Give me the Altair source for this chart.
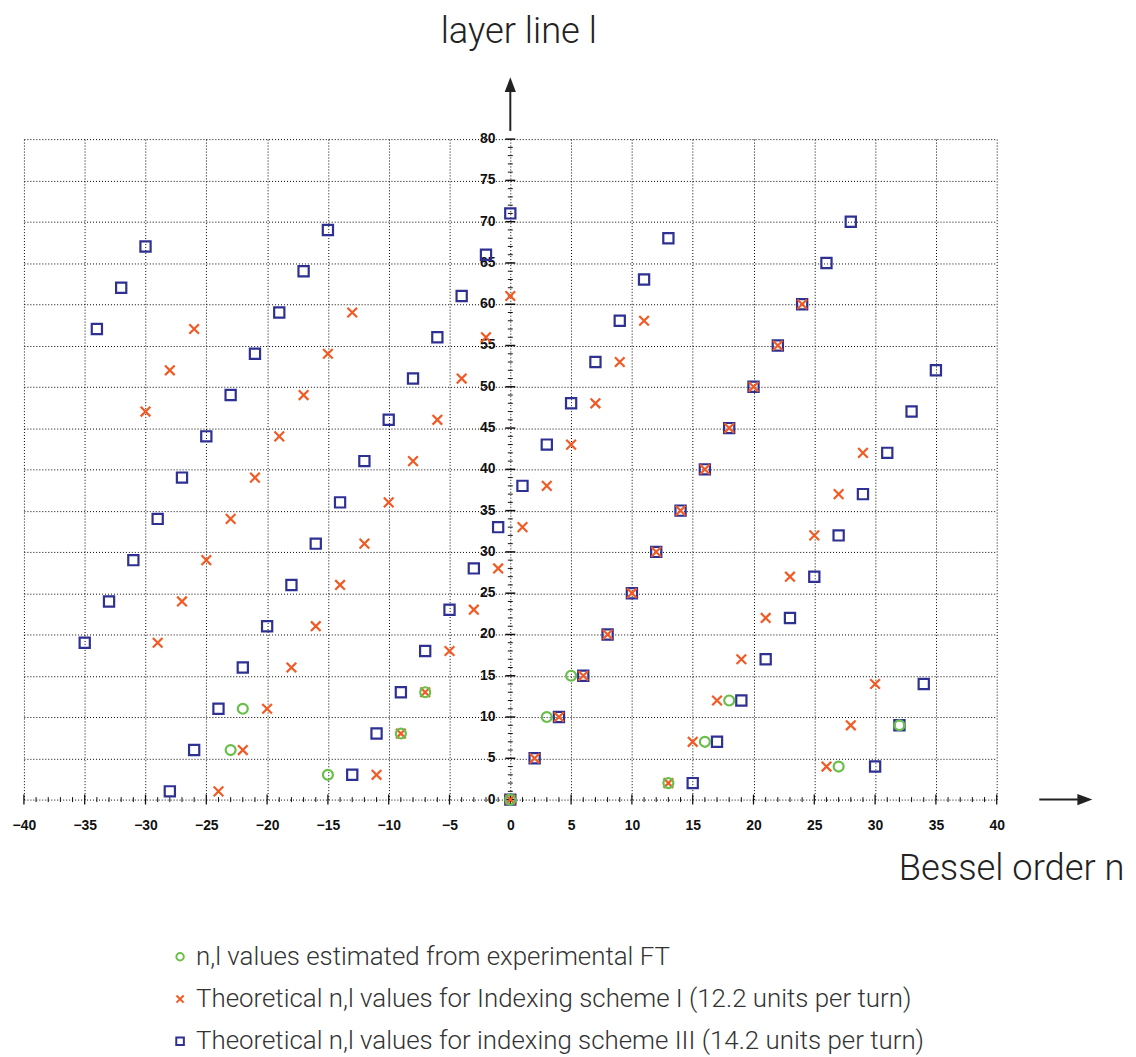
import altair as alt
import pandas as pd

# ---------------- data ----------------
exp_n = [0, 3, 5, -7, -9, -15, -22, -23, 13, 16, 18, 27, 32]
exp_l = [0, 10, 15, 13, 8, 3, 11, 6, 2, 7, 12, 4, 9]

s1_n = [0, 2, 4, 6, 8, 10, 12, 14, 16, 18, 20, 22, 24,
        0, -2, -4, -6, -8, -10, -12, -14, -16, -18, -20, -22, -24,
        -13, -15, -17, -19, -21, -23, -25, -27, -29,
        -26, -28, -30,
        -11, -9, -7, -5, -3, -1, 1, 3, 5, 7, 9, 11,
        13, 15, 17, 19, 21, 23, 25, 27, 29,
        26, 28, 30]
s1_l = [0, 5, 10, 15, 20, 25, 30, 35, 40, 45, 50, 55, 60,
        61, 56, 51, 46, 41, 36, 31, 26, 21, 16, 11, 6, 1,
        59, 54, 49, 44, 39, 34, 29, 24, 19,
        57, 52, 47,
        3, 8, 13, 18, 23, 28, 33, 38, 43, 48, 53, 58,
        2, 7, 12, 17, 22, 27, 32, 37, 42,
        4, 9, 14]

s3_n = [0, 2, 4, 6, 8, 10, 12, 14, 16, 18, 20, 22, 24,
        0, -2, -4, -6, -8, -10, -12, -14, -16, -18, -20, -22, -24, -26, -28,
        -15, -17, -19, -21, -23, -25, -27, -29, -31, -33, -35,
        -30, -32, -34,
        -13, -11, -9, -7, -5, -3, -1, 1, 3, 5, 7, 9, 11, 13,
        15, 17, 19, 21, 23, 25, 27, 29, 31, 33, 35,
        26, 28,
        30, 32, 34]
s3_l = [0, 5, 10, 15, 20, 25, 30, 35, 40, 45, 50, 55, 60,
        71, 66, 61, 56, 51, 46, 41, 36, 31, 26, 21, 16, 11, 6, 1,
        69, 64, 59, 54, 49, 44, 39, 34, 29, 24, 19,
        67, 62, 57,
        3, 8, 13, 18, 23, 28, 33, 38, 43, 48, 53, 58, 63, 68,
        2, 7, 12, 17, 22, 27, 32, 37, 42, 47, 52,
        65, 70,
        4, 9, 14]

series_names = [
    "n,l values estimated from experimental FT",
    "Theoretical n,l values for Indexing scheme I (12.2 units per turn)",
    "Theoretical n,l values for indexing scheme III (14.2 units per turn)",
]
series_colors = ["#6abf4b", "#f15a24", "#2e3192"]
circle_path = "M0.88,0A0.88,0.88,0,1,1,-0.88,0A0.88,0.88,0,1,1,0.88,0Z"
x_path = "M-0.85,-0.85L0.85,0.85M-0.85,0.85L0.85,-0.85"
square_path = "M-0.9,-0.9H0.9V0.9H-0.9Z"
series_shapes = [circle_path, x_path, square_path]

x_ticks = list(range(-40, 45, 5))
y_ticks = list(range(0, 85, 5))
x_minor = list(range(-40, 41, 1))
y_minor = list(range(0, 81, 1))

# ---------------- tables ----------------
points = pd.concat([
    pd.DataFrame({"n": s3_n, "l": s3_l, "series": series_names[2]}),
    pd.DataFrame({"n": s1_n, "l": s1_l, "series": series_names[1]}),
    pd.DataFrame({"n": exp_n, "l": exp_l, "series": series_names[0]}),
], ignore_index=True)

xt = pd.DataFrame({"n": x_minor, "l": 0})
xt["major"] = xt["n"] % 5 == 0
yt = pd.DataFrame({"n": 0, "l": y_minor})
yt["major"] = yt["l"] % 5 == 0
ylab = pd.DataFrame({"n": 0, "l": y_ticks})

TITLE_FONT = "Roboto"
LABEL_FONT = "Liberation Sans"

xscale = alt.Scale(domain=[-40, 40], nice=False, zero=False)
yscale = alt.Scale(domain=[0, 80], nice=False, zero=False)

xaxis = alt.Axis(values=x_ticks, grid=True, gridDash=[1, 2], gridColor="#000",
                 gridWidth=1, domain=False, ticks=False,
                 labelFont=LABEL_FONT, labelFontWeight="bold", labelFontSize=14,
                 labelColor="#111", labelPadding=19, labelFlush=False,
                 labelOverlap=False,
                 title="Bessel order n", titleFont=TITLE_FONT, titleFontSize=36.5,
                 titleFontWeight=300, titleColor="#222", titleX=1106, titleY=80,
                 titleAlign="right", titleBaseline="alphabetic")
yaxis = alt.Axis(values=y_ticks, grid=True, gridDash=[1, 2], gridColor="#000",
                 gridWidth=1, domain=False, ticks=False, labels=False,
                 title="layer line l", titleFont=TITLE_FONT, titleFontSize=36.5,
                 titleFontWeight=300, titleColor="#222", titleAngle=0,
                 titleX=497, titleY=-97, titleAlign="center",
                 titleBaseline="alphabetic")

X = alt.X("n:Q", scale=xscale, axis=xaxis)
Y = alt.Y("l:Q", scale=yscale, axis=yaxis)

legend = alt.Legend(title=None, orient="none", legendX=144, legendY=809,
                    labelFont=TITLE_FONT, labelFontWeight=300, labelFontSize=26,
                    labelColor="#333", labelLimit=1000, labelOffset=3,
                    symbolSize=72, symbolStrokeWidth=2, rowPadding=16.5)

# axis ticks crossing the axis lines
xt_major = alt.Chart(xt[xt["major"]]).mark_rule(
    color="#111", strokeWidth=1.3, yOffset=-5, y2Offset=5).encode(x=X, y=Y, y2=alt.Y2("l:Q"))
xt_minor = alt.Chart(xt[~xt["major"]]).mark_rule(
    color="#111", strokeWidth=1, yOffset=-2.5, y2Offset=2.5).encode(x=X, y=Y, y2=alt.Y2("l:Q"))
yt_major = alt.Chart(yt[yt["major"]]).mark_rule(
    color="#111", strokeWidth=1.5, xOffset=-5, x2Offset=5).encode(x=X, x2=alt.X2("n:Q"), y=Y)
yt_minor = alt.Chart(yt[~yt["major"]]).mark_rule(
    color="#111", strokeWidth=1, xOffset=-2.5, x2Offset=2.5).encode(x=X, x2=alt.X2("n:Q"), y=Y)

ylabels = alt.Chart(ylab).mark_text(
    align="right", baseline="middle", dx=-15, font=LABEL_FONT, fontWeight="bold",
    fontSize=14, color="#111").encode(x=X, y=Y, text=alt.Text("l:Q"))

pts = alt.Chart(points).mark_point(filled=False, size=130, strokeWidth=2.2, opacity=1).encode(
    x=X, y=Y,
    color=alt.Color("series:N", scale=alt.Scale(domain=series_names, range=series_colors), legend=legend),
    shape=alt.Shape("series:N", scale=alt.Scale(domain=series_names, range=series_shapes), legend=legend),
)

# arrows at the ends of the axes
up_shaft = alt.Chart(pd.DataFrame({"n": [0], "l": [81.0], "l2": [85.8]})).mark_rule(
    color="#222", strokeWidth=2).encode(x=X, y=Y, y2=alt.Y2("l2:Q"))
up_head = alt.Chart(pd.DataFrame({"n": [0], "l": [86.6]})).mark_point(
    shape="M0,-1L0.75,1L-0.75,1Z", filled=True, size=225, color="#222", opacity=1).encode(x=X, y=Y)
rt_shaft = alt.Chart(pd.DataFrame({"n": [43.5], "n2": [46.8], "l": [0]})).mark_rule(
    color="#222", strokeWidth=2).encode(x=X, x2=alt.X2("n2:Q"), y=Y)
rt_head = alt.Chart(pd.DataFrame({"n": [47.25], "l": [0]})).mark_point(
    shape="M1,0L-1,-0.75L-1,0.75Z", filled=True, size=225, color="#222", opacity=1).encode(x=X, y=Y)

chart = alt.layer(
    xt_minor, xt_major, yt_minor, yt_major, ylabels, up_shaft, up_head, rt_shaft, rt_head, pts
).properties(
    width=978, height=664,
    autosize=alt.AutoSizeParams(type="none"),
    padding={"left": 16, "top": 129, "right": 132, "bottom": 262},
).configure_view(stroke=None)

chart.save("out.html", embed_options={"renderer": "svg", "actions": False})
